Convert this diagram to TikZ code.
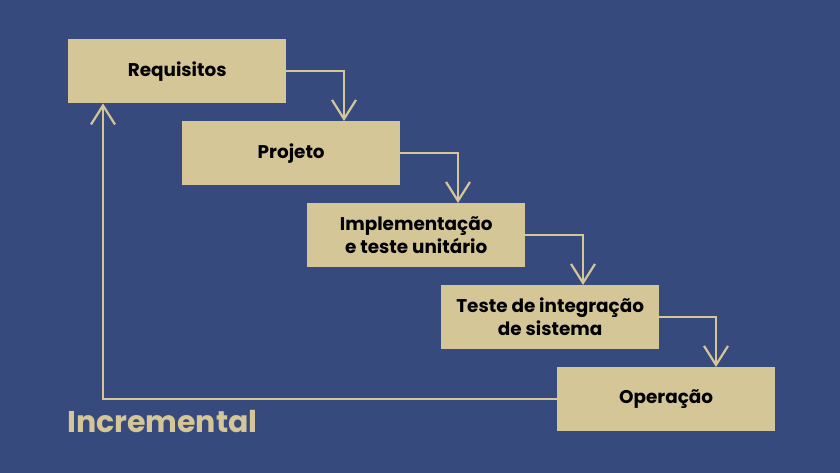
\documentclass[tikz,border=0pt]{standalone}
\usepackage{fontspec}
\setmainfont{Poppins}
\usetikzlibrary{arrows.meta}
\definecolor{bg}{HTML}{364A7E}
\definecolor{sand}{HTML}{D4C697}
\tikzset{
  stagebox/.style={fill=sand, draw=none, minimum width=218pt, minimum height=64pt, inner sep=0pt,
    anchor=north west, align=center, font=\bfseries\fontsize{18.4}{23}\selectfont, text=black},
  conn/.style={draw=sand, line width=2.2pt, -{Straight Barb[length=19pt,width=24pt]}}
}
\begin{document}
\begin{tikzpicture}[x=1pt,y=-1pt]
\fill[bg] (0,0) rectangle (840,473);
\useasboundingbox (0,0) rectangle (840,473);
\node[stagebox] (req) at (68,39) {Requisitos};
\node[stagebox] (proj) at (182,121) {Projeto};
\node[stagebox] (impl) at (307,203) {Implementação\\e teste unitário};
\node[stagebox] (test) at (441,285) {Teste de integração\\de sistema};
\node[stagebox] (oper) at (557,367) {Operação};
\draw[conn] (req.east) -| ([xshift=162pt]proj.north west);
\draw[conn] (proj.east) -| ([xshift=151pt]impl.north west);
\draw[conn] (impl.east) -| ([xshift=142pt]test.north west);
\draw[conn] (test.east) -| ([xshift=159pt]oper.north west);
\draw[conn] (oper.west) -| ([xshift=35pt]req.south west);
\node[anchor=base west, inner sep=0pt, text=sand, font=\bfseries\fontsize{30}{36}\selectfont] (inc) at (67,432) {Incremental};
\end{tikzpicture}
\end{document}
